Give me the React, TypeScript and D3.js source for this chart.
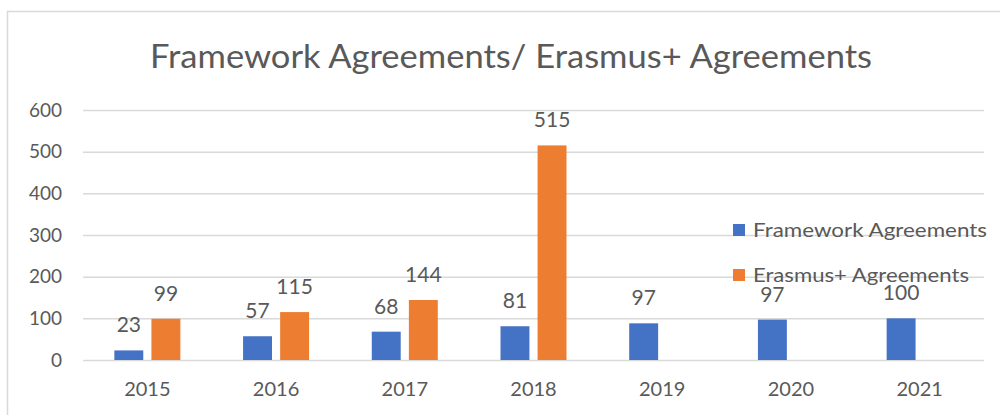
import React, { useRef, useEffect } from 'react';
import * as d3 from 'd3';

// chart data
const years = ['2015', '2016', '2017', '2018', '2019', '2020', '2021'];
const seriesNames = ['Framework Agreements', 'Erasmus+ Agreements'];
const frameworkValues = [23, 57, 68, 81, 88, 97, 100];
const frameworkLabels = ['23', '57', '68', '81', '97', '97', '100'];
const erasmusValues = [99, 115, 144, 515, null, null, null];
const erasmusLabels = ['99', '115', '144', '515', '', '', ''];
const yTicks = [0, 100, 200, 300, 400, 500, 600];

const colors = ['#4472C4', '#ED7D31'];
const textColor = '#595959';
const fontFamily = 'Lato, "Open Sans", sans-serif';

const BarChart = () => {
    const svgRef = useRef<SVGSVGElement>(null);

    useEffect(() => {
        const svg = d3.select(svgRef.current);
        svg.selectAll('*').remove();

        const width = 1000;
        const height = 415;
        const margin = { top: 110, right: 16, bottom: 55, left: 83 };

        // outer frame
        svg.append('rect')
            .attr('x', 7.5).attr('y', 11.5)
            .attr('width', width + 10).attr('height', height + 10)
            .attr('fill', '#fff')
            .attr('stroke', '#d9d9d9')
            .attr('stroke-width', 1.5);

        // title (reference font is wider than Lato, so stretch it a bit)
        svg.append('text')
            .attr('x', 511).attr('y', 68)
            .attr('text-anchor', 'middle')
            .attr('textLength', 722)
            .attr('lengthAdjust', 'spacingAndGlyphs')
            .style('font-family', fontFamily)
            .style('font-size', '32px')
            .attr('fill', textColor)
            .text('Framework Agreements/ Erasmus+ Agreements');

        const x = d3.scaleBand()
            .domain(years)
            .range([margin.left, width - margin.right]);
        const x1 = d3.scaleBand()
            .domain(seriesNames)
            .range([0, 66])
            .paddingInner(0.22);
        const y = d3.scaleLinear()
            .domain([0, 600])
            .range([height - margin.bottom, margin.top]);

        // gridlines + y axis
        const yAxis = d3.axisLeft(y)
            .tickValues(yTicks)
            .tickSize(-(width - margin.right - margin.left))
            .tickPadding(21);
        const gy = svg.append('g')
            .attr('transform', `translate(${margin.left},0)`)
            .call(yAxis);
        gy.select('.domain').remove();
        gy.selectAll('line').attr('stroke', '#d9d9d9').attr('stroke-width', 1.5);
        gy.selectAll('text')
            .attr('fill', textColor)
            .style('font-family', fontFamily)
            .style('font-size', '19px');

        // x axis labels
        const xAxis = d3.axisBottom(x).tickSize(0).tickPadding(22);
        const gx = svg.append('g')
            .attr('transform', `translate(0,${y(0)})`)
            .call(xAxis);
        gx.select('.domain').remove();
        gx.selectAll('text')
            .attr('fill', textColor)
            .style('font-family', fontFamily)
            .style('font-size', '20px');

        const seriesValues = [frameworkValues, erasmusValues];
        const seriesLabels = [frameworkLabels, erasmusLabels];

        seriesNames.forEach((name, s) => {
            const rows = years
                .map((yr, i) => ({ yr, v: seriesValues[s][i], label: seriesLabels[s][i] }))
                .filter(d => d.v !== null) as { yr: string; v: number; label: string }[];
            const offset = (x.bandwidth() - 66) / 2;

            svg.append('g').selectAll('rect')
                .data(rows)
                .enter()
                .append('rect')
                .attr('x', d => (x(d.yr) as number) + offset + (x1(name) as number))
                .attr('y', d => y(d.v))
                .attr('width', x1.bandwidth())
                .attr('height', d => y(0) - y(d.v))
                .attr('fill', colors[s]);

            svg.append('g').selectAll('text')
                .data(rows)
                .enter()
                .append('text')
                .attr('x', d => (x(d.yr) as number) + offset + (x1(name) as number) + x1.bandwidth() / 2)
                .attr('y', d => y(d.v) - 18)
                .attr('text-anchor', 'middle')
                .attr('fill', textColor)
                .style('font-family', fontFamily)
                .style('font-size', '21px')
                .text(d => d.label);
        });

        // legend
        const legendWidths = [234, 216];
        const legend = svg.append('g').attr('transform', 'translate(733,224)');
        seriesNames.forEach((name, i) => {
            const row = legend.append('g').attr('transform', `translate(0,${i * 45})`);
            row.append('rect')
                .attr('width', 12).attr('height', 12)
                .attr('fill', colors[i]);
            row.append('text')
                .attr('x', 20).attr('y', 6)
                .attr('dy', '0.35em')
                .attr('textLength', legendWidths[i])
                .attr('lengthAdjust', 'spacingAndGlyphs')
                .attr('fill', textColor)
                .style('font-family', fontFamily)
                .style('font-size', '20px')
                .text(name);
        });
    }, []);

    return (
        <svg ref={svgRef} width={1000} height={415}
            style={{ position: 'absolute', left: 0, top: 0, background: '#fff' }} />
    );
};

export default function App() {
    return <BarChart />;
}
